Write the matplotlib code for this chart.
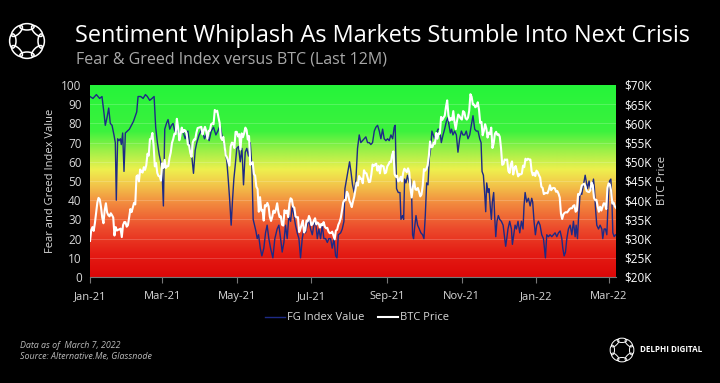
import numpy as np
import pandas as pd
import matplotlib
matplotlib.use("Agg")
import matplotlib.pyplot as plt
import matplotlib.dates as mdates
from matplotlib.colors import LinearSegmentedColormap
from matplotlib.patches import Ellipse
from matplotlib.ticker import FuncFormatter

# ---------------- data ----------------
start_date = "2021-01-01"

# BTC daily close, $K (Jan 1 2021 .. Mar 7 2022)
btc_2021_jan = [29.4, 32.2, 33.0, 32.0, 34.0, 36.8, 39.4, 40.6, 40.2, 38.2,
                35.5, 34.0, 37.4, 39.2, 36.8, 36.1, 35.8, 36.6, 36.1, 35.5,
                30.8, 33.0, 32.1, 32.3, 32.4, 32.6, 30.4, 33.5, 34.3, 34.3, 33.1]
btc_2021_feb = [33.5, 35.5, 37.7, 36.9, 38.1, 39.3, 38.9, 46.2, 46.5, 44.9,
                48.0, 47.4, 47.2, 48.6, 47.9, 49.1, 52.1, 51.6, 55.9, 56.0,
                57.5, 54.2, 48.8, 49.7, 47.1, 46.3, 46.2, 45.1]
btc_2021_mar = [49.6, 48.4, 50.5, 48.4, 48.8, 48.9, 51.0, 52.4, 54.9, 55.9,
                57.3, 57.2, 61.2, 59.0, 55.6, 56.9, 58.9, 57.7, 58.3, 58.1,
                57.4, 54.5, 54.3, 52.3, 51.3, 55.0, 55.8, 55.8, 57.6, 58.8, 58.9]
btc_2021_apr = [59.0, 59.1, 57.1, 58.2, 59.1, 58.0, 56.0, 58.1, 58.1, 59.8,
                60.0, 59.8, 63.5, 63.1, 63.3, 61.6, 60.1, 56.3, 55.7, 56.5,
                54.0, 51.7, 51.1, 50.0, 49.0, 54.0, 55.0, 54.8, 53.6, 57.8]
btc_2021_may = [57.8, 56.6, 57.2, 53.2, 57.4, 56.4, 57.4, 58.9, 58.3, 55.8,
                56.7, 49.2, 49.7, 49.9, 46.8, 46.4, 43.5, 42.9, 37.0, 40.8,
                37.3, 37.5, 34.7, 38.7, 38.4, 39.3, 38.4, 35.7, 34.6, 35.7, 37.3]
btc_2021_jun = [36.7, 37.6, 39.2, 36.9, 35.6, 35.8, 33.6, 33.4, 37.4, 36.7,
                37.3, 35.6, 39.1, 40.5, 40.2, 38.3, 38.1, 35.8, 35.5, 35.6,
                31.7, 32.5, 33.7, 34.7, 31.6, 32.2, 34.7, 34.5, 35.9, 35.0]
btc_2021_jul = [33.5, 33.8, 34.7, 35.3, 33.7, 34.2, 33.9, 32.9, 33.8, 33.5,
                34.3, 33.1, 32.7, 32.8, 31.8, 31.4, 31.5, 31.8, 30.8, 29.8,
                32.1, 32.3, 33.6, 34.3, 35.4, 37.3, 39.4, 40.0, 40.0, 42.2, 41.6]
btc_2021_aug = [39.9, 39.2, 38.2, 39.7, 40.9, 42.8, 44.6, 43.8, 46.3, 45.6,
                45.6, 44.4, 47.8, 47.1, 47.0, 45.9, 44.7, 44.8, 46.7, 49.3,
                48.9, 49.3, 49.5, 47.7, 48.9, 47.0, 49.1, 48.9, 48.8, 47.0, 47.2]
btc_2021_sep = [48.8, 49.3, 50.0, 49.9, 51.8, 52.7, 46.8, 46.1, 46.4, 44.9,
                45.2, 46.1, 44.9, 47.1, 48.2, 47.8, 47.3, 48.3, 47.3, 43.0,
                40.7, 43.6, 44.9, 42.8, 42.7, 43.2, 42.2, 41.0, 41.5, 43.8]
btc_2021_oct = [48.1, 47.7, 48.2, 49.1, 51.5, 55.3, 53.8, 53.9, 55.0, 54.7,
                57.5, 56.0, 57.4, 57.3, 61.7, 60.9, 61.5, 62.0, 64.3, 66.0,
                62.2, 60.7, 61.4, 60.9, 63.2, 60.3, 58.5, 60.6, 62.3, 61.9, 61.3]
btc_2021_nov = [61.0, 63.2, 62.9, 61.4, 61.0, 61.5, 63.3, 67.6, 66.9, 64.9,
                64.9, 64.2, 64.5, 65.5, 63.6, 60.1, 60.4, 56.9, 58.1, 59.8,
                58.7, 56.3, 57.6, 57.2, 58.9, 53.6, 54.8, 57.3, 57.8, 57.0]
btc_2021_dec = [57.2, 56.5, 53.6, 49.2, 49.4, 50.6, 50.5, 50.6, 47.6, 47.1,
                49.3, 50.1, 46.7, 48.4, 48.9, 47.6, 46.2, 46.8, 46.7, 46.9,
                49.0, 48.6, 50.8, 50.4, 50.8, 50.6, 50.6, 47.6, 46.5, 47.1, 46.3]
btc_2022_jan = [47.7, 47.3, 46.5, 45.9, 43.5, 43.2, 41.6, 41.8, 41.9, 41.8,
                42.7, 43.9, 42.6, 43.1, 43.2, 43.1, 42.2, 42.4, 41.7, 40.7,
                36.5, 35.1, 36.3, 36.7, 36.9, 36.8, 37.2, 37.7, 37.9, 37.9, 38.5]
btc_2022_feb = [38.7, 37.0, 37.3, 41.6, 41.4, 42.4, 43.8, 44.1, 44.3, 43.6,
                42.4, 42.2, 42.1, 42.6, 44.6, 43.9, 40.6, 40.0, 40.1, 38.4,
                37.0, 38.3, 37.3, 38.3, 39.2, 39.1, 37.7, 43.2]
btc_2022_mar = [44.4, 44.0, 42.5, 39.1, 39.4, 38.4, 38.0]

btc_price = (btc_2021_jan + btc_2021_feb + btc_2021_mar + btc_2021_apr +
             btc_2021_may + btc_2021_jun + btc_2021_jul + btc_2021_aug +
             btc_2021_sep + btc_2021_oct + btc_2021_nov + btc_2021_dec +
             btc_2022_jan + btc_2022_feb + btc_2022_mar)

# Fear & Greed index readings: days since 2021-01-01 and value
fg_day = [0, 2.4, 5.2, 7.9, 9.8, 11.5, 12.5, 13.9, 15.3, 16.6, 18, 19.6, 20.7, 21.5,
          22.6, 23.7, 24.8, 25.6, 26.7, 27.8, 28.9, 30.5, 32.2, 33.8, 35.5, 37.1,
          38.2, 39.3, 41.5, 43.4, 45.3, 46.9, 48.8, 50.7, 52.4, 53.7, 55.1, 56.5,
          57.8, 58.9, 60, 61.1, 62.5, 63.8, 65.2, 66.6, 67.9, 69.3, 71.8, 73.7,
          75.6, 77.8, 80, 81.9, 83.2, 84.6, 86, 87.3, 89.2, 91.4, 93.6, 95.5, 97.4,
          99.1, 101, 102.9, 104.5, 106.4, 107.8, 109.4, 110.5, 111.9, 113, 114.1,
          115.4, 116.5, 117.6, 118.7, 120, 121.4, 122.8, 124.2, 125.5, 126.9,
          128.2, 129.6, 131, 132.3, 133.4, 134.5, 135.6, 136.7, 137.8, 139.2,
          140.5, 142.1, 143.5, 144.8, 146.2, 147.6, 149.5, 151.1, 153, 154.4,
          155.8, 157.1, 158.5, 159.8, 161.2, 162.6, 164, 165.3, 166.7, 168, 169.4,
          170.8, 172.1, 173.5, 174.8, 176.2, 177.6, 179, 180.3, 181.7, 183, 184.4,
          185.8, 187.1, 188.5, 189.9, 191.2, 192.6, 194, 195.3, 196.7, 198, 199.4,
          200.8, 201.9, 203, 204.9, 206.2, 207.6, 208.4, 209.5, 210.3, 211.1,
          212.2, 213.3, 214.6, 216, 217.4, 218.7, 220.1, 221.4, 222.8, 224.2,
          225.5, 226.9, 228.3, 229.6, 231, 232.4, 233.7, 235.1, 236.5, 237.8,
          239.2, 240.5, 241.9, 243.3, 244.6, 246, 247.4, 248.7, 249.5, 250.6, 252,
          253.4, 254.2, 255.5, 256.4, 257.2, 258.3, 259.6, 261, 262.1, 262.9,
          263.7, 264.5, 265.6, 266.5, 267.8, 269.2, 270.5, 271.9, 273, 274.1,
          275.2, 276.3, 277.4, 278.5, 279.5, 280.6, 281.7, 283.4, 284.5, 285.8,
          287.2, 288.6, 289.9, 291.3, 292.6, 293.5, 294.6, 295.6, 296.7, 298.1,
          299.5, 300.8, 302.2, 303.6, 304.9, 306.3, 307.6, 309, 310.4, 311.7,
          313.1, 314.5, 315.8, 317.2, 318.6, 319.7, 320.5, 321.6, 322.7, 323.5,
          324.3, 325.4, 326.2, 327.3, 328.1, 328.9, 330, 330.8, 331.7, 332.7,
          333.8, 334.9, 336.3, 337.7, 339, 339.8, 340.7, 341.7, 343.1, 344.5,
          345.3, 346.4, 347.5, 348.6, 349.9, 351.3, 352.7, 354, 354.8, 355.7, 357,
          358.4, 359.8, 361.1, 361.9, 363, 364.1, 365.2, 366.6, 367.9, 369.3,
          370.7, 371.5, 372.3, 373.4, 374.8, 376.1, 377.5, 378.9, 380.2, 381.6,
          383, 384.3, 385.7, 386.5, 387.6, 388.7, 389.8, 391.1, 392.5, 393.9,
          395.2, 396.6, 397.4, 398.5, 399.3, 400.7, 402, 403.4, 404.8, 405.6,
          406.7, 408, 408.9, 410.2, 411.6, 412.4, 413.2, 414.3, 415.7, 417, 418.4,
          419.2, 420.3, 421.4, 422.5, 423.9, 424.7, 425.8, 426.6, 427.4, 428.5,
          429.6, 430]
fg_value = [94, 93, 95, 93, 94, 85, 79, 83, 88, 80, 79, 74, 70, 40,
            72, 71, 72, 69, 75, 55, 75, 76, 77, 79, 81, 84,
            86, 94, 94, 93, 95, 94, 92, 93, 94, 78, 70, 64,
            60, 55, 37, 77, 80, 82, 77, 79, 80, 76, 76, 73,
            77, 72, 76, 67, 63, 54, 66, 70, 74, 77, 72, 75, 71,
            76, 78, 74, 76, 79, 74, 70, 66, 60, 51, 41,
            27, 40, 51, 58, 67, 68, 60, 67, 48, 65,
            67, 63, 70, 58, 30, 27, 24, 20, 22, 15,
            11, 15, 23, 27, 20, 15, 10, 20, 25, 27,
            20, 13, 18, 27, 20, 32, 29, 37, 32, 27, 23,
            20, 10, 20, 25, 23, 27, 30, 25, 22, 27, 29,
            20, 25, 20, 27, 20, 20, 18, 20, 20, 15, 20,
            11, 10, 22, 23, 25, 29, 46, 50, 53, 56,
            60, 55, 48, 44, 51, 67, 74, 70, 71, 72,
            73, 70, 70, 69, 70, 76, 78, 79, 76, 72,
            77, 72, 71, 72, 71, 74, 72, 78, 79, 46, 44,
            44, 30, 32, 30, 51, 49, 53, 49, 51, 44,
            22, 20, 27, 32, 27, 25, 23, 22, 20, 32,
            49, 48, 62, 67, 76, 74, 72, 75, 77, 77,
            70, 74, 77, 81, 83, 79, 75, 77, 74, 76,
            74, 65, 72, 76, 74, 74, 76, 72, 74, 79,
            84, 77, 76, 76, 72, 70, 55, 53, 43, 34,
            49, 44, 46, 36, 30, 39, 44, 32, 21, 29,
            32, 30, 29, 27, 20, 16, 20, 25, 29, 25,
            17, 22, 27, 25, 29, 23, 29, 25, 37, 44, 39,
            41, 37, 41, 39, 29, 22, 27, 29, 27, 22,
            20, 15, 10, 22, 21, 22, 21, 22, 23, 21,
            23, 24, 20, 15, 11, 13, 20, 25, 27, 22,
            29, 21, 27, 20, 30, 44, 43, 48, 53, 50,
            46, 50, 46, 46, 51, 46, 36, 27, 25, 27, 25,
            20, 25, 25, 22, 44, 50, 51, 41, 23, 21,
            22, 22]

fg_ticks = list(range(0, 101, 10))
btc_ticks = list(range(20, 71, 5))
month_ticks = ["2021-01-01", "2021-03-01", "2021-05-01", "2021-07-01", "2021-09-01",
               "2021-11-01", "2022-01-01", "2022-03-01"]

title = "Sentiment Whiplash As Markets Stumble Into Next Crisis"
subtitle = "Fear & Greed Index versus BTC (Last 12M)"
note_lines = ["Data as of  March 7, 2022", "Source: Alternative.Me, Glassnode"]

# ---------------- plotting ----------------
plt.rcParams['font.family'] = ['Open Sans', 'DejaVu Sans']

W, H = 720, 383
fig = plt.figure(figsize=(W / 100, H / 100), dpi=100, facecolor="black")

def fx(px):
    return px / W

def fy(py):
    return 1 - py / H

ax_l, ax_r, ax_t, ax_b = 90, 616, 85, 277
ax = fig.add_axes([fx(ax_l), fy(ax_b), fx(ax_r - ax_l), (ax_b - ax_t) / H])
ax.set_facecolor("black")

t0 = pd.Timestamp(start_date)
btc_dates = pd.date_range(t0, periods=len(btc_price), freq="D")
fg_dates = t0 + pd.to_timedelta(np.array(fg_day), unit="D")

x0 = mdates.date2num(btc_dates[0])
x1 = mdates.date2num(btc_dates[-1])

# gradient background
cmap = LinearSegmentedColormap.from_list("fg", [
    (0.00, "#dc0808"),
    (0.12, "#e41c14"),
    (0.25, "#ec4a2c"),
    (0.38, "#f2883e"),
    (0.48, "#f3c64a"),
    (0.56, "#eef04e"),
    (0.66, "#9cf048"),
    (0.76, "#3cf23e"),
    (1.00, "#25f43a"),
])
grad = np.linspace(0, 1, 256).reshape(-1, 1)
ax.imshow(grad, extent=[x0, x1, 0, 100], origin="lower", aspect="auto",
          cmap=cmap, zorder=0, interpolation="bilinear")
for v in fg_ticks[1:-1]:
    ax.axhline(v, color="white", alpha=0.22, lw=0.6, zorder=1)

ax.plot(fg_dates, fg_value, color="#1d2a86", lw=1.0, zorder=3, label="FG Index Value")
ax.set_xlim(x0, x1)
ax.set_ylim(0, 100)
ax.set_yticks(fg_ticks)

ax2 = ax.twinx()
ax2.plot(btc_dates, btc_price, color="white", lw=1.5, zorder=4, label="BTC Price")
ax2.set_ylim(20, 70)
ax2.set_yticks(btc_ticks)
ax2.yaxis.set_major_formatter(FuncFormatter(lambda v, p: f"${v:.0f}K"))
ax2.set_xlim(x0, x1)

ax.set_xticks([mdates.date2num(pd.Timestamp(d)) for d in month_ticks])
ax.xaxis.set_major_formatter(mdates.DateFormatter("%b-%y"))

lab_col = "#d8d8d8"
for a in (ax, ax2):
    for s in a.spines.values():
        s.set_visible(False)
ax.spines["bottom"].set_visible(True)
ax.spines["bottom"].set_color("#777777")
ax.spines["bottom"].set_linewidth(0.8)
ax.tick_params(axis="x", colors="#777777", labelcolor=lab_col, labelsize=8, length=4, width=0.8, pad=6)
ax.tick_params(axis="y", length=0, labelcolor=lab_col, labelsize=8.5, pad=6)
ax2.tick_params(axis="y", length=0, labelcolor="white", labelsize=8.5, pad=6)

ax.set_ylabel("Fear and Greed Index Value", color=lab_col, fontsize=8, labelpad=4)
ax2.set_ylabel("BTC Price", color=lab_col, fontsize=8, labelpad=4)

# legend
h1, l1 = ax.get_legend_handles_labels()
h2, l2 = ax2.get_legend_handles_labels()
leg = fig.legend(h1 + h2, l1 + l2, loc="center", bbox_to_anchor=(fx(357), fy(318)),
                 ncol=2, frameon=False, fontsize=8, labelcolor=lab_col,
                 handlelength=1.8, handletextpad=0.2, columnspacing=1.2)

# titles
fig.text(fx(75), fy(36), title, color="white", fontsize=16.9, va="center", ha="left")
fig.text(fx(76), fy(59), subtitle, color="#a8a8a8", fontsize=11.5, va="center", ha="left")

# footnotes
fig.text(fx(20), fy(346), note_lines[0], color="#bbbbbb", fontsize=6.4, style="italic", va="center")
fig.text(fx(20), fy(357), note_lines[1], color="#bbbbbb", fontsize=6.4, style="italic", va="center")

# logos
def draw_logo(cx, cy, size, lw):
    la = fig.add_axes([fx(cx - size / 2), fy(cy + size / 2), fx(size), size / H])
    la.set_xlim(-1.55, 1.55)
    la.set_ylim(-1.55, 1.55)
    la.set_aspect("equal")
    la.axis("off")
    for k in range(8):
        ang = np.pi / 2 + k * np.pi / 4
        e = Ellipse((np.cos(ang) * 1.0, np.sin(ang) * 1.0), 1.0, 0.45,
                    angle=np.degrees(ang) + 90, fill=False, ec="white", lw=lw)
        la.add_patch(e)

draw_logo(27, 41, 44, 1.1)
draw_logo(622, 350, 30, 0.7)
fig.text(fx(640), fy(350), "DELPHI DIGITAL", color="white", fontsize=5.8, va="center",
         ha="left", fontweight="bold")

fig.savefig("out.png", dpi=100, facecolor="black")
